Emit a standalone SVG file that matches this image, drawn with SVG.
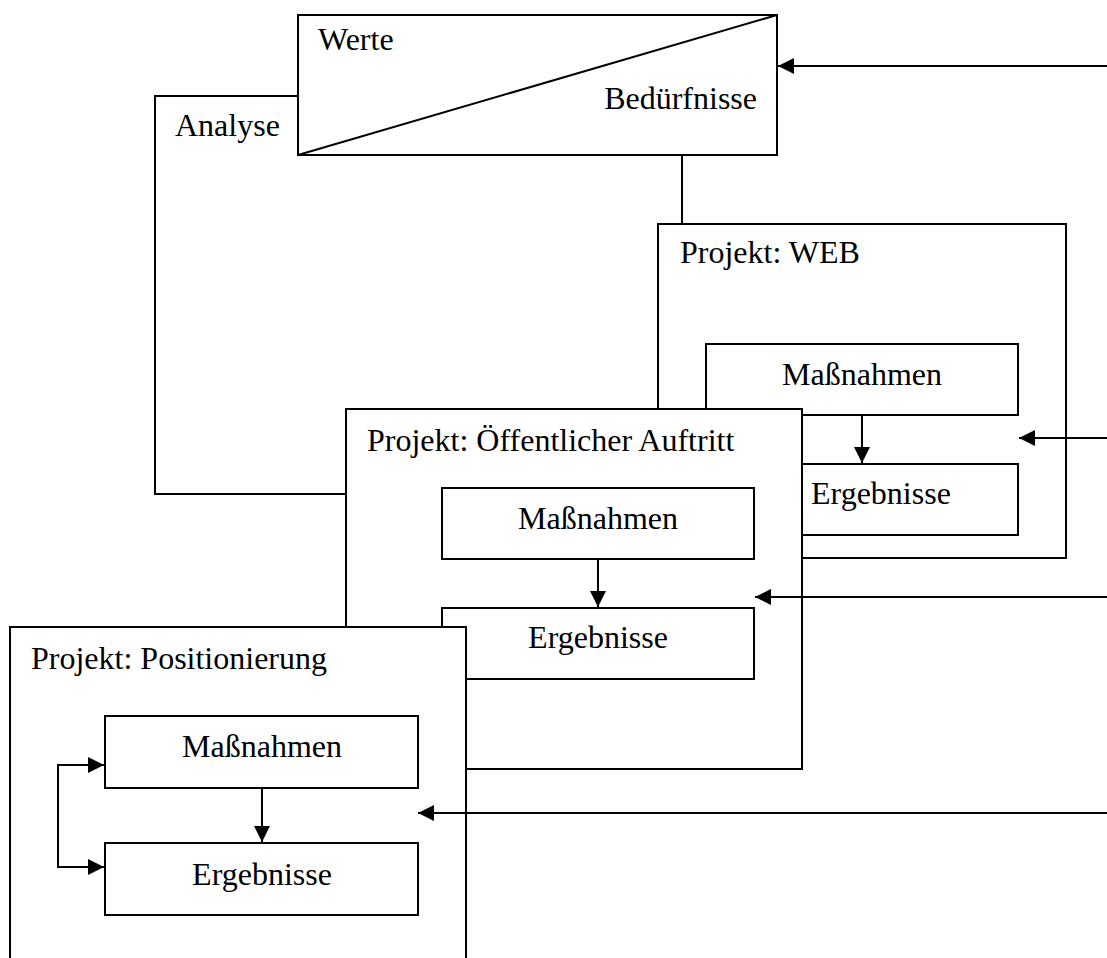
<svg xmlns="http://www.w3.org/2000/svg" width="1107" height="958" viewBox="0 0 1107 958">
  <style>
    .box { fill: #ffffff; stroke: #000000; stroke-width: 2; }
    .ln { fill: none; stroke: #000000; stroke-width: 2; }
    text { font-family: "Liberation Serif", "Times New Roman", serif; font-size: 32px; fill: #000000; }
    .mid { text-anchor: middle; }
    .end { text-anchor: end; }
  </style>
  <defs>
    <marker id="head" viewBox="0 0 16 16" refX="16" refY="8" markerWidth="16" markerHeight="16" markerUnits="userSpaceOnUse" orient="auto">
      <path d="M0,0 L16,8 L0,16 Z" fill="#000000"/>
    </marker>
  </defs>

  <rect width="1107" height="958" fill="#ffffff"/>

  <!-- Werte / Bedürfnisse -->
  <g id="werte">
    <rect class="box" x="298" y="15" width="479" height="140"/>
    <line class="ln" x1="298" y1="155" x2="777" y2="15"/>
    <text x="318" y="50">Werte</text>
    <text class="end" x="757" y="109">Bedürfnisse</text>
  </g>

  <g id="analyse-label">
    <text x="175" y="136">Analyse</text>
  </g>

  <!-- Projekt: WEB -->
  <g id="projekt-web">
    <rect class="box" x="658" y="224" width="408" height="334"/>
    <text x="680" y="263">Projekt: WEB</text>
    <rect class="box" x="706" y="344" width="312" height="71"/>
    <text class="mid" x="862" y="385">Maßnahmen</text>
    <rect class="box" x="706" y="464" width="312" height="71"/>
    <text x="811" y="504">Ergebnisse</text>
  </g>

  <!-- Projekt: Öffentlicher Auftritt -->
  <g id="projekt-auftritt">
    <rect class="box" x="346" y="409" width="456" height="360"/>
    <text x="367" y="451">Projekt: Öffentlicher Auftritt</text>
    <rect class="box" x="442" y="488" width="312" height="71"/>
    <text class="mid" x="598" y="529">Maßnahmen</text>
    <rect class="box" x="442" y="608" width="312" height="71"/>
    <text class="mid" x="598" y="648">Ergebnisse</text>
  </g>

  <!-- Projekt: Positionierung -->
  <g id="projekt-positionierung">
    <rect class="box" x="10" y="627" width="456" height="340"/>
    <text x="31" y="669">Projekt: Positionierung</text>
    <rect class="box" x="105" y="716" width="313" height="72"/>
    <text class="mid" x="262" y="757">Maßnahmen</text>
    <rect class="box" x="105" y="843" width="313" height="72"/>
    <text class="mid" x="262" y="885">Ergebnisse</text>
  </g>

  <!-- connectors -->
  <g id="connectors">
    <polyline class="ln" points="298,96 155,96 155,494 346,494"/>
    <line class="ln" x1="682" y1="155" x2="682" y2="224"/>

    <line class="ln" x1="1107" y1="66" x2="778" y2="66" marker-end="url(#head)"/>
    <line class="ln" x1="1107" y1="438" x2="1019" y2="438" marker-end="url(#head)"/>
    <line class="ln" x1="1107" y1="597" x2="755" y2="597" marker-end="url(#head)"/>
    <line class="ln" x1="1107" y1="813" x2="418" y2="813" marker-end="url(#head)"/>

    <line class="ln" x1="862" y1="415" x2="862" y2="463" marker-end="url(#head)"/>
    <line class="ln" x1="598" y1="559" x2="598" y2="607" marker-end="url(#head)"/>
    <line class="ln" x1="262" y1="788" x2="262" y2="842" marker-end="url(#head)"/>

    <polyline class="ln" points="58,867 58,765 104,765" marker-end="url(#head)"/>
    <line class="ln" x1="57" y1="867" x2="104" y2="867" marker-end="url(#head)"/>
  </g>
</svg>
